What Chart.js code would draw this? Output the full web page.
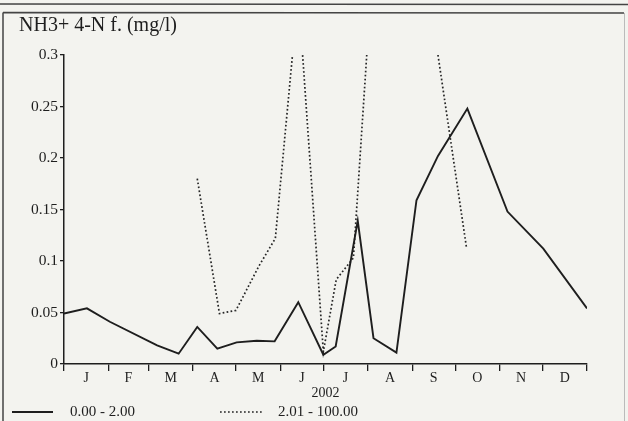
<!DOCTYPE html>
<html><head><meta charset="utf-8">
<script src="https://cdn.jsdelivr.net/npm/chart.js@4.4.1/dist/chart.umd.min.js"></script>
<style>html,body{margin:0;padding:0;background:#f3f3ef;}#wrap{width:628px;height:421px;position:relative;}</style>
</head><body><div id="wrap"><canvas id="c" width="628" height="421"></canvas></div>
<script>
const chartTitle = 'NH3+ 4-N f. (mg/l)';
const yearLabel = '2002';
const monthLabels = ['J','F','M','A','M','J','J','A','S','O','N','D'];
const monthStarts = [0,31,59,90,120,151,181,212,243,273,304,334,365];
const yTicks = [0,0.05,0.1,0.15,0.2,0.25,0.3];
const seriesNames = ['0.00 - 2.00','2.01 - 100.00'];

// series 1 (solid): day of year, value
const lowDays   = [0, 16, 32, 65, 80, 93, 107, 120.5, 134.5, 147, 163.5, 181, 189.6, 205, 216, 232, 246, 261, 281.5, 309.5, 334.5, 365];
const lowValues = [0.049, 0.054, 0.041, 0.018, 0.010, 0.036, 0.015, 0.021, 0.0225, 0.022, 0.060, 0.009, 0.017, 0.139, 0.025, 0.011, 0.159, 0.202, 0.248, 0.148, 0.112, 0.054];

// series 2 (dotted): day of year, value (values above 0.3 run off the top of the plot)
const highDays   = [93, 108.5, 120, 136, 147.5, 163.5, 181, 190, 202, 216, 232, 261, 281];
const highValues = [0.18, 0.049, 0.052, 0.095, 0.122, 0.36, 0.012, 0.082, 0.103, 0.40, null, 0.30, 0.112];

const FONT = '"Liberation Serif", "Times New Roman", serif';
const INK = '#1e1e1e';

const pagePlugin = {
  id: 'page',
  beforeDraw(chart) {
    const ctx = chart.ctx;
    ctx.save();
    ctx.fillStyle = '#f3f3ef';
    ctx.fillRect(0, 0, chart.width, chart.height);
    ctx.strokeStyle = '#444';
    ctx.lineWidth = 1.5;
    ctx.beginPath();
    ctx.moveTo(0, 4); ctx.lineTo(chart.width, 4.5);
    ctx.moveTo(3, 12.5); ctx.lineTo(624, 13);
    ctx.moveTo(3, 12.5); ctx.lineTo(3, chart.height);
    ctx.stroke();
    ctx.strokeStyle = '#bbb';
    ctx.lineWidth = 1;
    ctx.beginPath();
    ctx.moveTo(624.5, 13); ctx.lineTo(624.5, chart.height);
    ctx.stroke();
    ctx.restore();
  },
  afterDraw(chart) {
    const ctx = chart.ctx;
    ctx.save();
    ctx.fillStyle = INK;
    ctx.font = '20px ' + FONT;
    ctx.textBaseline = 'alphabetic';
    ctx.fillText(chartTitle, 19, 30.5);
    // legend
    const ds = chart.data.datasets;
    const items = [{x0: 12, x1: 53, tx: 70}, {x0: 220, x1: 264, tx: 278}];
    ctx.font = '15px ' + FONT;
    ctx.textBaseline = 'middle';
    ds.forEach((d, i) => {
      const it = items[i];
      ctx.strokeStyle = d.borderColor;
      ctx.lineWidth = d.borderWidth;
      ctx.setLineDash(d.borderDash || []);
      ctx.beginPath();
      ctx.moveTo(it.x0, 412); ctx.lineTo(it.x1, 412);
      ctx.stroke();
      ctx.setLineDash([]);
      ctx.fillText(d.label, it.tx, 412);
    });
    ctx.restore();
  }
};

function toPoints(days, vals) { return days.map((d, i) => ({x: d, y: vals[i]})); }

new Chart(document.getElementById('c'), {
  type: 'line',
  data: {
    datasets: [
      { label: seriesNames[0], data: toPoints(lowDays, lowValues), borderColor: INK, borderWidth: 1.9, pointRadius: 0, tension: 0, fill: false },
      { label: seriesNames[1], data: toPoints(highDays, highValues), borderColor: '#262626', borderWidth: 1.7, borderDash: [1.7, 2.3], pointRadius: 0, tension: 0, fill: false, spanGaps: false }
    ]
  },
  options: {
    responsive: false,
    animation: false,
    devicePixelRatio: 1,
    layout: { padding: { top: 55, right: 41, bottom: 0, left: 0 } },
    plugins: { legend: { display: false }, title: { display: false }, tooltip: { enabled: false } },
    scales: {
      x: {
        type: 'linear', min: 0, max: 365,
        afterBuildTicks(scale) {
          const t = monthStarts.map(v => ({value: v}));
          monthStarts.slice(0, 12).forEach((v, i) => t.push({value: (v + monthStarts[i + 1]) / 2}));
          t.sort((a, b) => a.value - b.value);
          scale.ticks = t;
        },
        afterFit(scale) { scale.height = 57; },
        ticks: {
          autoSkip: false, maxRotation: 0, minRotation: 0, padding: -1, color: INK,
          font: { family: FONT, size: 14 },
          callback(value) {
            if (monthStarts.includes(value)) return '';
            for (let i = 0; i < 12; i++) if ((monthStarts[i] + monthStarts[i + 1]) / 2 === value) return monthLabels[i];
            return '';
          }
        },
        grid: {
          drawOnChartArea: false, tickLength: 7, lineWidth: 1.3,
          color: c => (c.tick && monthStarts.includes(c.tick.value)) ? INK : 'rgba(0,0,0,0)',
          tickColor: c => (c.tick && monthStarts.includes(c.tick.value)) ? INK : 'rgba(0,0,0,0)'
        },
        border: { display: true, color: INK, width: 1.5 },
        title: { display: true, text: yearLabel, color: INK, font: { family: FONT, size: 14 }, padding: { top: 0, bottom: 19 } }
      },
      y: {
        min: 0, max: 0.3,
        afterBuildTicks(scale) { scale.ticks = yTicks.map(v => ({value: v})); },
        afterFit(scale) { scale.width = 64; },
        ticks: {
          padding: 2, color: INK, font: { family: FONT, size: 15.5 },
          callback(value) { return value === 0 ? '0' : String(+value.toFixed(2)); }
        },
        grid: { drawOnChartArea: false, tickLength: 4, lineWidth: 1.3, color: INK, tickColor: INK },
        border: { display: true, color: INK, width: 1.5 }
      }
    }
  },
  plugins: [pagePlugin]
});
</script>
</body></html>
